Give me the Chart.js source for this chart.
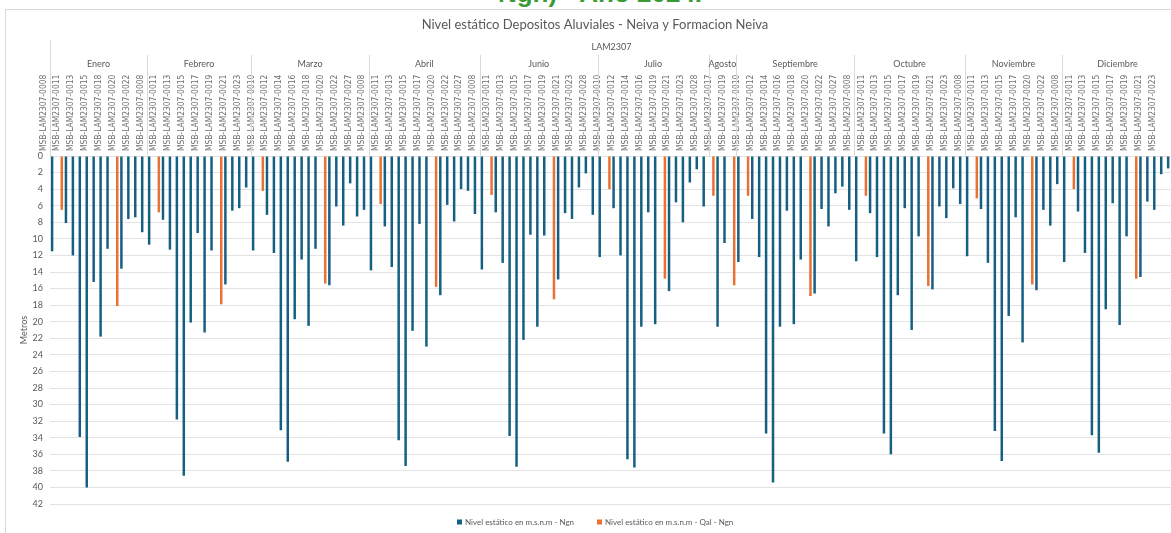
<!DOCTYPE html>
<html lang="es">
<head>
<meta charset="utf-8">
<title>Nivel estático Depositos Aluviales - Neiva y Formacion Neiva</title>
<script src="https://cdn.jsdelivr.net/npm/chart.js@4.4.1/dist/chart.umd.min.js"></script>
<style>
  html, body { margin: 0; padding: 0; background: #fff; overflow: hidden; }
  #wrap { position: relative; width: 1171px; height: 533px; overflow: hidden; }
  #encabezado {
    position: absolute; left: 0; top: -22.5px; width: 1200px; text-align: center;
    font: bold 26px "Liberation Sans", sans-serif; color: #3a9a36; white-space: nowrap;
  }
  #grafico { position: absolute; left: 0; top: 0; }
</style>
</head>
<body>
<div id="wrap">
  <div id="encabezado">Ngn) - Año 2024.</div>
  <canvas id="grafico" width="1176" height="533"></canvas>
</div>
<script>
// datos (metros bajo el terreno)
const prefijo = "MSB-LAM2307-";
const grupo = "LAM2307";

const meses = ["Enero", "Febrero", "Marzo", "Abril", "Junio", "Julio", "Agosto",
  "Septiembre", "Octubre", "Noviembre", "Diciembre"];
const pozosPorMes = [14, 15, 17, 16, 17, 16, 4, 17, 16, 14, 16];

const pozos = [
  // Enero
  "0008", "0010", "0011", "0012", "0013", "0014", "0015", "0017", "0018", "0019", "0020", "0021", "0022", "0023",
  // Febrero
  "0008", "0010", "0011", "0012", "0013", "0014", "0015", "0016", "0017", "0018", "0019", "0020", "0021", "0022", "0023",
  // Marzo
  "0008", "0010", "0011", "0012", "0013", "0014", "0015", "0016", "0017", "0018", "0019", "0020", "0021", "0022", "0023", "0027", "0028",
  // Abril
  "0008", "0010", "0011", "0012", "0013", "0014", "0015", "0016", "0017", "0019", "0020", "0021", "0022", "0023", "0027", "0028",
  // Junio
  "0008", "0010", "0011", "0012", "0013", "0014", "0015", "0016", "0017", "0018", "0019", "0020", "0021", "0022", "0023", "0027", "0028",
  // Julio
  "0008", "0010", "0011", "0012", "0013", "0014", "0015", "0016", "0017", "0019", "0020", "0021", "0022", "0023", "0027", "0028",
  // Agosto
  "0010", "0017", "0018", "0019",
  // Septiembre
  "0008", "0010", "0011", "0012", "0013", "0014", "0015", "0016", "0017", "0018", "0019", "0020", "0021", "0022", "0023", "0027", "0028",
  // Octubre
  "0008", "0010", "0011", "0012", "0013", "0014", "0015", "0016", "0017", "0018", "0019", "0020", "0021", "0022", "0023", "0027",
  // Noviembre
  "0008", "0010", "0011", "0012", "0013", "0014", "0015", "0016", "0017", "0019", "0020", "0021", "0022", "0023",
  // Diciembre
  "0008", "0010", "0011", "0012", "0013", "0014", "0015", "0016", "0017", "0018", "0019", "0020", "0021", "0022", "0023", "0027"
];

const ngn = [
  11.5, null, 8.1, 12.0, 33.9, 40.0, 15.2, 21.8, 11.2, null, 13.6, 7.6, 7.4, 9.2,
  10.7, null, 7.7, 11.3, 31.8, 38.6, 20.1, 9.3, 21.3, 11.4, null, 15.5, 6.6, 6.3, 3.8,
  11.4, null, 7.1, 11.7, 33.1, 36.9, 19.7, 12.5, 20.5, 11.2, null, 15.6, 6.1, 8.4, 3.3, 7.3, 6.5,
  13.8, null, 8.5, 13.4, 34.3, 37.4, 21.1, 8.2, 23.0, null, 16.8, 5.9, 7.9, 4.0, 4.2, 7.0,
  13.7, null, 6.8, 12.9, 33.8, 37.5, 22.2, 9.5, 20.6, 9.6, null, 14.9, 6.9, 7.6, 3.8, 2.1, 7.1,
  12.2, null, 6.3, 12.0, 36.6, 37.6, 20.6, 6.8, 20.3, null, 16.3, 5.6, 8.0, 3.2, 1.6, 6.1,
  null, 20.6, 10.5, null,
  12.8, null, 7.6, 12.2, 33.5, 39.4, 20.6, 6.6, 20.3, 12.5, null, 16.6, 6.4, 8.5, 4.5, 3.7, 6.5,
  12.7, null, 6.9, 12.2, 33.5, 36.0, 16.8, 6.3, 21.0, 9.7, null, 16.1, 6.1, 7.5, 3.9, 5.8,
  12.1, null, 6.4, 12.9, 33.2, 36.8, 19.3, 7.4, 22.5, null, 16.2, 6.5, 8.4, 3.4,
  12.8, null, 6.7, 11.7, 33.7, 35.8, 18.5, 5.7, 20.4, 9.7, null, 14.6, 5.5, 6.5, 2.2, 1.5
];

const qalNgn = [
  null, 6.5, null, null, null, null, null, null, null, 18.1, null, null, null, null,
  null, 6.8, null, null, null, null, null, null, null, null, 17.9, null, null, null, null,
  null, 4.2, null, null, null, null, null, null, null, null, 15.4, null, null, null, null, null, null,
  null, 5.8, null, null, null, null, null, null, null, 15.8, null, null, null, null, null, null,
  null, 4.7, null, null, null, null, null, null, null, null, 17.3, null, null, null, null, null, null,
  null, 4.0, null, null, null, null, null, null, null, 14.8, null, null, null, null, null, null,
  4.8, null, null, 15.6,
  null, 4.8, null, null, null, null, null, null, null, null, 16.9, null, null, null, null, null, null,
  null, 4.8, null, null, null, null, null, null, null, null, 15.7, null, null, null, null, null,
  null, 5.1, null, null, null, null, null, null, null, 15.5, null, null, null, null,
  null, 4.0, null, null, null, null, null, null, null, null, 14.8, null, null, null, null, null
];

const ticksY = [0, 2, 4, 6, 8, 10, 12, 14, 16, 18, 20, 22, 24, 26, 28, 30, 32, 34, 36, 38, 40, 42];

const nombres = pozos.map((p) => prefijo + p);
const azul = "#156082";
const naranja = "#E97132";
const gris = "#595959";
const fuente = "Lato, 'Noto Sans', sans-serif";
const fuenteEstrecha = "'Liberation Sans Narrow', 'DejaVu Sans Condensed', sans-serif";

// marco, titulo, meses, "Metros" y leyenda dibujados a mano
const cabecera = {
  id: "cabecera",
  beforeDraw(chart) {
    const ctx = chart.ctx;
    ctx.save();
    ctx.strokeStyle = "#d9d9d9";
    ctx.lineWidth = 1;
    ctx.strokeRect(5.5, 9.5, 1300, 600);
    ctx.restore();
  },
  afterDraw(chart) {
    const ctx = chart.ctx;
    const area = chart.chartArea;
    const x = chart.scales.x;
    const medio = (x.getPixelForValue(1) - x.getPixelForValue(0)) / 2;

    ctx.save();
    ctx.fillStyle = gris;
    ctx.textAlign = "center";
    ctx.textBaseline = "middle";
    ctx.font = "13px " + fuente;
    ctx.fillText("Nivel estático Depositos Aluviales - Neiva y Formacion Neiva", 595, 25);

    ctx.font = "9px " + fuente;
    ctx.fillText(grupo, (area.left + area.right) / 2, 47);

    ctx.strokeStyle = "#d9d9d9";
    ctx.lineWidth = 1;
    // bordes del grupo
    ctx.beginPath();
    ctx.moveTo(Math.round(area.left) + 0.5, 40);
    ctx.lineTo(Math.round(area.left) + 0.5, area.top);
    ctx.moveTo(Math.round(area.right) - 0.5, 40);
    ctx.lineTo(Math.round(area.right) - 0.5, area.top);
    ctx.stroke();

    let inicio = 0;
    pozosPorMes.forEach((n, i) => {
      const x0 = x.getPixelForValue(inicio) - medio;
      const x1 = x.getPixelForValue(inicio + n - 1) + medio;
      ctx.fillText(meses[i], (x0 + x1) / 2, 64);
      if (i < pozosPorMes.length - 1) {
        ctx.beginPath();
        ctx.moveTo(Math.round(x1) + 0.5, 55);
        ctx.lineTo(Math.round(x1) + 0.5, area.top);
        ctx.stroke();
      }
      inicio += n;
    });

    // titulo del eje
    ctx.save();
    ctx.translate(24, (area.top + area.bottom) / 2);
    ctx.rotate(-Math.PI / 2);
    ctx.fillText("Metros", 0, 0);
    ctx.restore();

    // leyenda
    ctx.font = "8px " + fuente;
    ctx.textAlign = "left";
    const yl = 522;
    ctx.fillStyle = azul;
    ctx.fillRect(457, yl - 2.5, 5, 5);
    ctx.fillStyle = gris;
    ctx.fillText("Nivel estático en m.s.n.m - Ngn", 465, yl);
    ctx.fillStyle = naranja;
    ctx.fillRect(597, yl - 2.5, 5, 5);
    ctx.fillStyle = gris;
    ctx.fillText("Nivel estático en m.s.n.m - Qal - Ngn", 605, yl);
    ctx.restore();
  }
};

const graph = document.getElementById("grafico");

const data = {
  labels: nombres,
  datasets: [
    {
      label: "Nivel estático en m.s.n.m - Ngn",
      data: ngn,
      backgroundColor: azul,
      borderWidth: 0,
      barPercentage: 0.9,
      categoryPercentage: 0.8,
    },
    {
      label: "Nivel estático en m.s.n.m - Qal - Ngn",
      data: qalNgn,
      backgroundColor: naranja,
      borderWidth: 0,
      barPercentage: 0.9,
      categoryPercentage: 0.8,
    },
  ],
};

const config = {
  type: "bar",
  data: data,
  options: {
    responsive: false,
    animation: false,
    devicePixelRatio: 1,
    layout: { padding: { left: 0, right: 3, top: 0, bottom: 29 } },
    plugins: {
      legend: { display: false },
      title: { display: false },
      tooltip: { enabled: false },
    },
    scales: {
      x: {
        position: "top",
        grid: { display: false, drawTicks: false },
        border: { display: false },
        ticks: {
          autoSkip: false,
          minRotation: 90,
          maxRotation: 90,
          padding: 5,
          color: "#6f6f6f",
          font: { family: fuenteEstrecha, size: 8.4 },
          callback: function (valor, i) {
            return i % 2 === 0 ? this.getLabelForValue(valor) : "";
          },
        },
        afterFit: (scale) => { scale.height = 156; },
      },
      y: {
        reverse: true,
        min: 0,
        max: 42,
        afterBuildTicks: (scale) => { scale.ticks = ticksY.map((v) => ({ value: v })); },
        grid: { color: "#e3e3e3", drawTicks: false },
        border: { display: false },
        ticks: {
          padding: 7,
          color: gris,
          font: { family: fuente, size: 9 },
        },
        afterFit: (scale) => { scale.width = 50; },
      },
    },
  },
  plugins: [cabecera],
};

let myChart = new Chart(graph, config);
</script>
</body>
</html>
